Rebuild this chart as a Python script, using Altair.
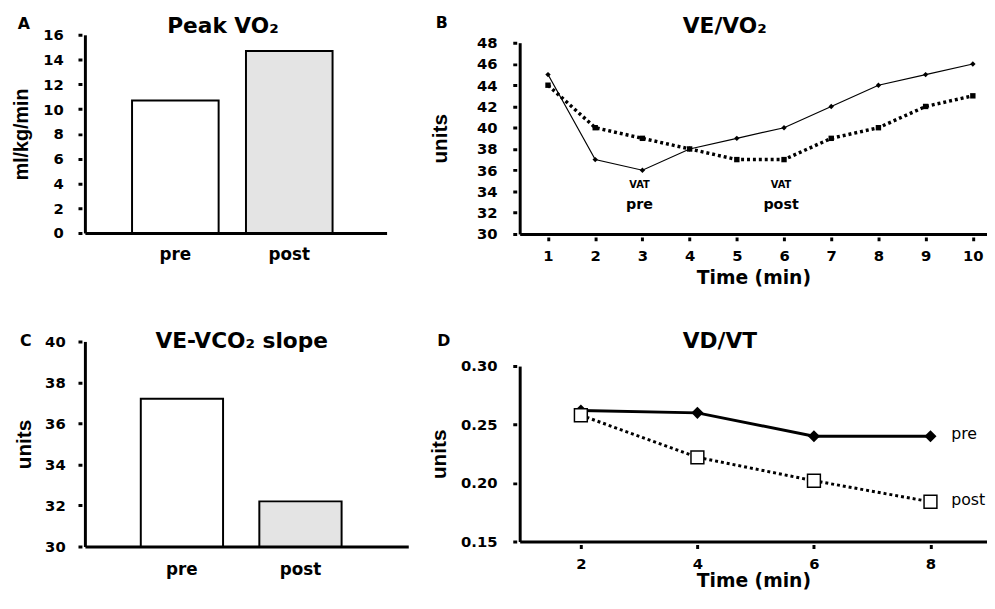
import altair as alt
import pandas as pd

FONT = "DejaVu Sans"
FONT_Y = "Liberation Sans"

# ---------------- data ----------------
groups = ["pre", "post"]
peak_vo2 = [10.7, 14.7]          # ml/kg/min
ve_vco2_slope = [37.2, 32.2]     # units

time_b = [1, 2, 3, 4, 5, 6, 7, 8, 9, 10]
ve_vo2_pre = [45, 37, 36, 38, 39, 40, 42, 44, 45, 46]
ve_vo2_post = [44, 40, 39, 38, 37, 37, 39, 40, 42, 43]

time_d = [2, 4, 6, 8]
vd_vt_pre = [0.262, 0.260, 0.240, 0.240]
vd_vt_post = [0.258, 0.222, 0.202, 0.184]

vat_time = [3, 6]
vat_group = ["pre", "post"]

panel_letters = ["A", "B", "C", "D"]
panel_titles = ["Peak VO\u2082", "VE/VO\u2082", "VE-VCO\u2082 slope", "VD/VT"]

bar_colors = ["#ffffff", "#e4e4e4"]

# annotation levels (in VE/VO2 units) for the VAT notes of panel B
VAT_LEVEL = 34.64
VAT_LABEL_LEVEL = 32.7


# ---------------- helpers ----------------
def letter(ch, dx, dy):
    return alt.Chart(pd.DataFrame({"t": [ch]})).mark_text(
        font=FONT, fontSize=16, fontWeight="bold", color="black",
        align="center", baseline="middle"
    ).encode(x=alt.value(dx), y=alt.value(dy), text="t:N")


def head(text, dx, dy):
    return alt.Chart(pd.DataFrame({"t": [text]})).mark_text(
        font=FONT, fontSize=22, fontWeight="bold", color="black",
        align="center", baseline="alphabetic"
    ).encode(x=alt.value(dx), y=alt.value(dy), text="t:N")


def bar_panel(values, ymin, ymax, ystep, ytitle, ytfs, w, h, pad_in, pad_out, align,
              ch, ldx, ldy, ttl, tdx, tdy, ypad, ytpad, xpad):
    df = pd.DataFrame({"group": groups, "value": values})
    bars = alt.Chart(df).mark_bar(stroke="black", strokeWidth=2).encode(
        x=alt.X("group:N", sort=groups,
                scale=alt.Scale(paddingInner=pad_in, paddingOuter=pad_out, align=align),
                axis=alt.Axis(title=None, ticks=False, tickSize=0, labelAngle=0,
                              labelFontSize=17, labelPadding=xpad)),
        y=alt.Y("value:Q",
                scale=alt.Scale(domain=[ymin, ymax], nice=False, zero=False),
                axis=alt.Axis(values=list(range(ymin, ymax + 1, ystep)),
                              labelOverlap=False,
                              title=ytitle, titleFont=FONT_Y, titleFontSize=ytfs,
                              labelPadding=ypad, titlePadding=ytpad)),
        y2=alt.Y2(datum=ymin),
        fill=alt.Fill("group:N", sort=groups,
                      scale=alt.Scale(domain=groups, range=bar_colors), legend=None),
    )
    return alt.layer(bars, letter(ch, ldx, ldy), head(ttl, tdx, tdy)).properties(
        width=w, height=h)


# ---------------- panel A ----------------
panel_a = bar_panel(peak_vo2, 0, 16, 2, "ml/kg/min", 20, 306, 201, 0.24, 0.444, 0.466,
                    panel_letters[0], -62, -11, panel_titles[0], 140, -2, 15, 11, 14)

# ---------------- panel C ----------------
panel_c = bar_panel(ve_vco2_slope, 30, 40, 2, "units", 21, 328, 208, 0.306, 0.517, 0.456,
                    panel_letters[2], -60, 0, panel_titles[2], 159, 7, 13, 10, 15)

# ---------------- panel B ----------------
W_R = 474      # width of the right-hand panels
B_H = 202      # plot frame height (shares its top with panel A)
B_TOP = 8      # the value axis starts a little below the shared top
df_b = pd.DataFrame({
    "time": time_b * 2,
    "value": ve_vo2_pre + ve_vo2_post,
    "series": ["pre"] * len(time_b) + ["post"] * len(time_b),
})
xb = alt.X("time:Q", scale=alt.Scale(domain=[0.4, 10.3], nice=False, zero=False),
           axis=alt.Axis(values=time_b, title="Time (min)", titleFontSize=19,
                         labelPadding=8, titlePadding=5))
yb = alt.Y("value:Q", scale=alt.Scale(domain=[30, 48], nice=False, zero=False,
                                      range=[B_H, B_TOP]),
           axis=alt.Axis(values=list(range(30, 49, 2)), labelOverlap=False, title="units",
                         titleFont=FONT_Y, titleFontSize=21,
                         labelPadding=16, titlePadding=26))
base_b = alt.Chart(df_b)
pre_b = base_b.transform_filter(alt.datum.series == "pre")
post_b = base_b.transform_filter(alt.datum.series == "post")
b_layers = [
    pre_b.mark_line(color="black", strokeWidth=1.2).encode(x=xb, y=yb),
    pre_b.mark_point(shape="diamond", filled=True, color="black", size=30, opacity=1).encode(x=xb, y=yb),
    post_b.mark_line(color="black", strokeWidth=3.5, strokeDash=[3, 3]).encode(x=xb, y=yb),
    post_b.mark_point(shape="square", filled=True, color="black", size=30, opacity=1).encode(x=xb, y=yb),
]
df_vat = pd.DataFrame({"time": vat_time, "group": vat_group,
                       "value": [VAT_LEVEL] * len(vat_time)})
df_vat_lbl = pd.DataFrame({"time": vat_time, "group": vat_group,
                           "value": [VAT_LABEL_LEVEL] * len(vat_time)})
vat_text = alt.Chart(df_vat).mark_text(
    font=FONT, fontSize=10, fontWeight="bold", color="black", baseline="middle", dx=-3
).encode(x=xb, y=yb, text=alt.value("VAT"))
vat_lbl = alt.Chart(df_vat_lbl).mark_text(
    font=FONT, fontSize=14.5, fontWeight="bold", color="black", baseline="middle", dx=-3
).encode(x=xb, y=yb, text="group:N")
panel_b = alt.layer(*b_layers, vat_text, vat_lbl,
                    letter(panel_letters[1], -79, B_TOP - 20),
                    head(panel_titles[1], 208, B_TOP - 10)).properties(width=W_R, height=B_H)

# ---------------- panel D ----------------
df_d = pd.DataFrame({
    "time": time_d * 2,
    "value": vd_vt_pre + vd_vt_post,
    "series": ["pre"] * len(time_d) + ["post"] * len(time_d),
})
xd = alt.X("time:Q", scale=alt.Scale(domain=[0.95, 8.97], nice=False, zero=False),
           axis=alt.Axis(values=time_d, title="Time (min)", titleFontSize=19,
                         labelPadding=8, titlePadding=1))
yd = alt.Y("value:Q", scale=alt.Scale(domain=[0.15, 0.30], nice=False, zero=False),
           axis=alt.Axis(values=[0.15, 0.20, 0.25, 0.30], format=".2f", title="units",
                         labelOverlap=False, titleFont=FONT_Y, titleFontSize=21,
                         labelPadding=16, titlePadding=11))
base_d = alt.Chart(df_d)
pre_d = base_d.transform_filter(alt.datum.series == "pre")
post_d = base_d.transform_filter(alt.datum.series == "post")
df_end = pd.DataFrame({"time": [time_d[-1]] * 2,
                       "value": [vd_vt_pre[-1], vd_vt_post[-1]],
                       "series": ["pre", "post"]})
d_layers = [
    pre_d.mark_line(color="black", strokeWidth=3).encode(x=xd, y=yd),
    pre_d.mark_point(shape="diamond", filled=True, color="black", size=150, opacity=1).encode(x=xd, y=yd),
    post_d.mark_line(color="black", strokeWidth=3, strokeDash=[3, 3]).encode(x=xd, y=yd),
    post_d.mark_point(shape="square", filled=True, fill="white", stroke="black",
                      strokeWidth=1.5, size=170, opacity=1).encode(x=xd, y=yd),
    alt.Chart(df_end).mark_text(font=FONT, fontSize=16, color="black",
                                align="left", baseline="middle", dx=21, dy=-2)
    .encode(x=xd, y=yd, text="series:N"),
]
panel_d = alt.layer(*d_layers, letter(panel_letters[3], -77, -25),
                    head(panel_titles[3], 203, -18)).properties(width=W_R, height=178)

left = alt.vconcat(panel_a, panel_c, spacing=69)
right = alt.vconcat(panel_b, panel_d, spacing=44)

chart = alt.hconcat(left, right, spacing=20).properties(
    padding={"left": 4, "top": 3, "right": 0, "bottom": 0}
).configure_view(stroke=None).configure_axis(
    domainColor="black", domainWidth=3, tickColor="black", tickWidth=3,
    tickSize=7, tickDash=[0, 3, 4], labelFont=FONT, labelFontSize=15,
    labelFontWeight="bold", labelColor="black", labelOverlap=False,
    titleFont=FONT, titleFontWeight="bold", titleColor="black", grid=False,
)

chart.save("out.html", embed_options={"renderer": "svg", "actions": False})
